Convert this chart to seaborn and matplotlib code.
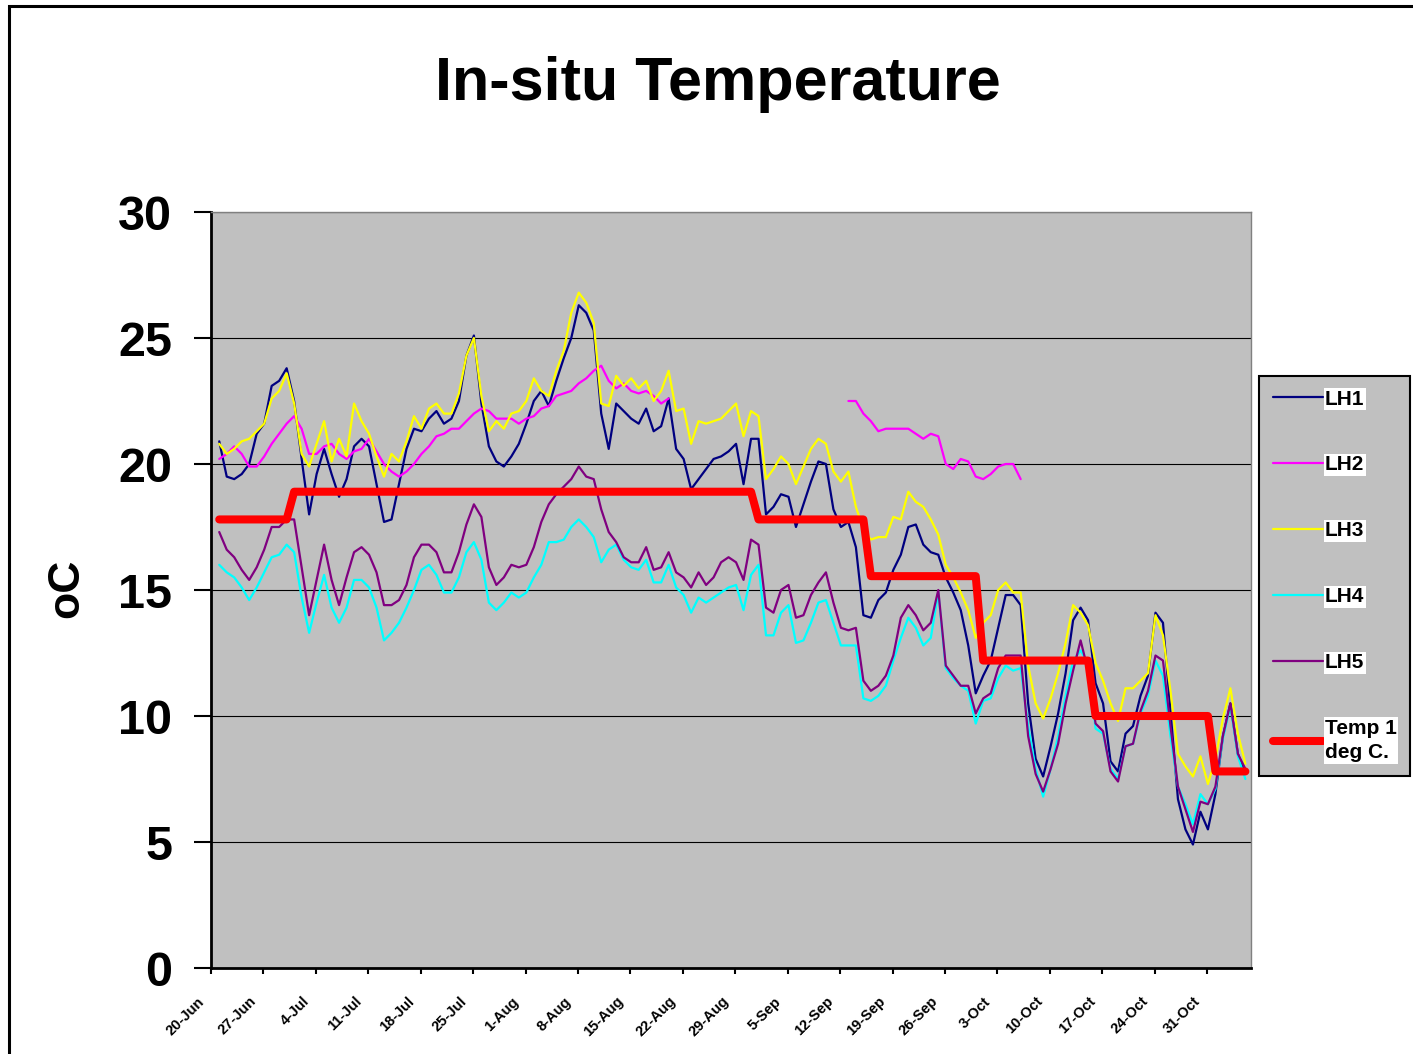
import numpy as np
import matplotlib.pyplot as plt
from matplotlib.patches import Rectangle
from matplotlib.transforms import ScaledTranslation
import seaborn as sns

# daily in-situ readings, first reading on 21-Jun
lh1 = [20.9, 19.5, 19.4, 19.6, 20.0, 21.2, 21.6, 23.1, 23.3, 23.8,
       22.5, 20.2, 18.0, 19.6, 20.6, 19.6, 18.7, 19.4, 20.7, 21.0,
       20.7, 19.2, 17.7, 17.8, 19.2, 20.6, 21.4, 21.3, 21.8, 22.1,
       21.6, 21.8, 22.5, 24.3, 25.1, 22.4, 20.7, 20.1, 19.9, 20.3,
       20.8, 21.6, 22.5, 22.9, 22.3, 23.3, 24.2, 25.0, 26.3, 26.0,
       25.3, 22.0, 20.6, 22.4, 22.1, 21.8, 21.6, 22.2, 21.3, 21.5,
       22.6, 20.6, 20.2, 19.0, 19.4, 19.8, 20.2, 20.3, 20.5, 20.8,
       19.2, 21.0, 21.0, 18.0, 18.3, 18.8, 18.7, 17.5, 18.4, 19.3,
       20.1, 20.0, 18.2, 17.5, 17.7, 16.7, 14.0, 13.9, 14.6, 14.9,
       15.8, 16.4, 17.5, 17.6, 16.8, 16.5, 16.4, 15.5, 14.9, 14.2,
       12.8, 10.9, 11.6, 12.2, 13.5, 14.8, 14.8, 14.4, 10.5, 8.3,
       7.6, 8.8, 10.1, 11.7, 13.8, 14.3, 13.8, 11.3, 10.5, 8.2,
       7.8, 9.3, 9.6, 10.8, 11.6, 14.1, 13.7, 10.2, 6.7, 5.5,
       4.9, 6.2, 5.5, 6.9, 9.2, 10.5, 8.5, 7.7]

# LH2 logged in two stretches
lh2_early = [20.2, 20.4, 20.7, 20.4, 19.9, 19.9, 20.3, 20.8, 21.2, 21.6,
             21.9, 21.4, 20.4, 20.4, 20.7, 20.8, 20.4, 20.2, 20.5, 20.6,
             21.0, 20.5, 20.0, 19.7, 19.5, 19.7, 20.0, 20.4, 20.7, 21.1,
             21.2, 21.4, 21.4, 21.7, 22.0, 22.2, 22.1, 21.8, 21.8, 21.8,
             21.6, 21.8, 21.9, 22.2, 22.3, 22.7, 22.8, 22.9, 23.2, 23.4,
             23.7, 23.9, 23.3, 23.0, 23.2, 22.9, 22.8, 22.9, 22.7, 22.4,
             22.6]
lh2_late = [22.5, 22.5, 22.0, 21.7, 21.3, 21.4,
            21.4, 21.4, 21.4, 21.2, 21.0, 21.2, 21.1, 20.0, 19.8, 20.2,
            20.1, 19.5, 19.4, 19.6, 19.9, 20.0, 20.0, 19.4]
LH2_LATE_START = 84  # reading index where the second stretch begins

lh3 = [20.8, 20.4, 20.6, 20.9, 21.0, 21.3, 21.6, 22.6, 22.9, 23.6,
       22.4, 20.4, 19.9, 20.8, 21.7, 20.1, 21.0, 20.3, 22.4, 21.7,
       21.2, 20.3, 19.5, 20.4, 20.1, 20.9, 21.9, 21.4, 22.2, 22.4,
       22.0, 22.0, 22.8, 24.3, 25.0, 22.7, 21.3, 21.7, 21.4, 22.0,
       22.1, 22.5, 23.4, 22.9, 22.7, 23.7, 24.5, 26.0, 26.8, 26.4,
       25.6, 22.4, 22.3, 23.5, 23.1, 23.4, 23.0, 23.3, 22.5, 22.9,
       23.7, 22.1, 22.2, 20.8, 21.7, 21.6, 21.7, 21.8, 22.1, 22.4,
       21.1, 22.1, 21.9, 19.4, 19.8, 20.3, 20.0, 19.2, 19.9, 20.6,
       21.0, 20.8, 19.7, 19.3, 19.7, 18.3, 17.4, 17.0, 17.1, 17.1,
       17.9, 17.8, 18.9, 18.5, 18.3, 17.8, 17.2, 16.0, 15.5, 14.9,
       14.2, 13.1, 13.7, 14.0, 15.0, 15.3, 14.9, 14.9, 12.0, 10.5,
       9.9, 10.7, 11.7, 12.9, 14.4, 14.1, 13.6, 12.1, 11.4, 10.5,
       9.8, 11.1, 11.1, 11.4, 11.7, 14.0, 13.2, 11.0, 8.5, 8.0,
       7.6, 8.4, 7.3, 8.3, 9.9, 11.1, 9.3, 8.1]

lh4 = [16.0, 15.7, 15.5, 15.1, 14.6, 15.1, 15.7, 16.3, 16.4, 16.8,
       16.5, 14.7, 13.3, 14.5, 15.6, 14.3, 13.7, 14.3, 15.4, 15.4,
       15.1, 14.3, 13.0, 13.3, 13.7, 14.3, 15.0, 15.8, 16.0, 15.6,
       14.9, 14.9, 15.5, 16.5, 16.9, 16.2, 14.5, 14.2, 14.5, 14.9,
       14.7, 14.9, 15.5, 16.0, 16.9, 16.9, 17.0, 17.5, 17.8, 17.5,
       17.1, 16.1, 16.6, 16.8, 16.2, 15.9, 15.8, 16.2, 15.3, 15.3,
       16.0, 15.1, 14.8, 14.1, 14.7, 14.5, 14.7, 14.9, 15.1, 15.2,
       14.2, 15.6, 16.0, 13.2, 13.2, 14.1, 14.4, 12.9, 13.0, 13.7,
       14.5, 14.6, 13.7, 12.8, 12.8, 12.8, 10.7, 10.6, 10.8, 11.2,
       12.2, 13.1, 13.9, 13.5, 12.8, 13.1, 14.9, 11.9, 11.5, 11.2,
       11.0, 9.7, 10.6, 10.7, 11.5, 12.0, 11.8, 11.9, 9.6, 7.9,
       6.8, 7.9, 9.2, 10.8, 12.2, 12.6, 12.1, 9.5, 9.3, 7.9,
       7.5, 8.8, 8.9, 10.1, 10.8, 12.2, 11.6, 9.2, 7.2, 6.5,
       5.7, 6.9, 6.5, 7.1, 9.1, 10.4, 8.4, 7.5]

lh5 = [17.3, 16.6, 16.3, 15.8, 15.4, 15.9, 16.6, 17.5, 17.5, 17.8,
       17.8, 15.9, 14.0, 15.4, 16.8, 15.4, 14.4, 15.5, 16.5, 16.7,
       16.4, 15.7, 14.4, 14.4, 14.6, 15.2, 16.3, 16.8, 16.8, 16.5,
       15.7, 15.7, 16.5, 17.6, 18.4, 17.9, 15.9, 15.2, 15.5, 16.0,
       15.9, 16.0, 16.7, 17.7, 18.4, 18.8, 19.1, 19.4, 19.9, 19.5,
       19.4, 18.2, 17.3, 16.9, 16.3, 16.1, 16.1, 16.7, 15.8, 15.9,
       16.5, 15.7, 15.5, 15.1, 15.7, 15.2, 15.5, 16.1, 16.3, 16.1,
       15.4, 17.0, 16.8, 14.3, 14.1, 15.0, 15.2, 13.9, 14.0, 14.8,
       15.3, 15.7, 14.5, 13.5, 13.4, 13.5, 11.4, 11.0, 11.2, 11.6,
       12.4, 13.9, 14.4, 14.0, 13.4, 13.7, 15.0, 12.0, 11.6, 11.2,
       11.2, 10.1, 10.7, 10.9, 11.9, 12.4, 12.4, 12.4, 9.2, 7.7,
       7.0, 7.9, 8.9, 10.5, 11.8, 13.0, 11.8, 9.7, 9.4, 7.8,
       7.4, 8.8, 8.9, 10.2, 11.0, 12.4, 12.2, 9.6, 7.2, 6.3,
       5.4, 6.6, 6.5, 7.2, 9.2, 10.5, 8.5, 7.9]

temp_1deg = [17.8, 17.8, 17.8, 17.8, 17.8, 17.8, 17.8, 17.8, 17.8, 17.8,
             18.9, 18.9, 18.9, 18.9, 18.9, 18.9, 18.9, 18.9, 18.9, 18.9,
             18.9, 18.9, 18.9, 18.9, 18.9, 18.9, 18.9, 18.9, 18.9, 18.9,
             18.9, 18.9, 18.9, 18.9, 18.9, 18.9, 18.9, 18.9, 18.9, 18.9,
             18.9, 18.9, 18.9, 18.9, 18.9, 18.9, 18.9, 18.9, 18.9, 18.9,
             18.9, 18.9, 18.9, 18.9, 18.9, 18.9, 18.9, 18.9, 18.9, 18.9,
             18.9, 18.9, 18.9, 18.9, 18.9, 18.9, 18.9, 18.9, 18.9, 18.9,
             18.9, 18.9, 17.8, 17.8, 17.8, 17.8, 17.8, 17.8, 17.8, 17.8,
             17.8, 17.8, 17.8, 17.8, 17.8, 17.8, 17.8, 15.55, 15.55, 15.55,
             15.55, 15.55, 15.55, 15.55, 15.55, 15.55, 15.55, 15.55, 15.55, 15.55,
             15.55, 15.55, 12.2, 12.2, 12.2, 12.2, 12.2, 12.2, 12.2, 12.2,
             12.2, 12.2, 12.2, 12.2, 12.2, 12.2, 12.2, 10.0, 10.0, 10.0,
             10.0, 10.0, 10.0, 10.0, 10.0, 10.0, 10.0, 10.0, 10.0, 10.0,
             10.0, 10.0, 10.0, 7.8, 7.8, 7.8, 7.8, 7.8]

tick_labels = ['20-Jun', '27-Jun', '4-Jul', '11-Jul', '18-Jul', '25-Jul', '1-Aug',
               '8-Aug', '15-Aug', '22-Aug', '29-Aug', '5-Sep', '12-Sep', '19-Sep',
               '26-Sep', '3-Oct', '10-Oct', '17-Oct', '24-Oct', '31-Oct']

colors = {'LH1': '#000080', 'LH2': '#FF00FF', 'LH3': '#FFFF00',
          'LH4': '#00FFFF', 'LH5': '#800080', 'Temp': '#FF0000'}

sns.set_style('white')
plt.rcParams['font.family'] = ['Liberation Sans', 'DejaVu Sans']
plt.rcParams['text.color'] = 'black'
plt.rcParams['xtick.color'] = 'black'
plt.rcParams['ytick.color'] = 'black'

W, H = 1413, 1054
fig = plt.figure(figsize=(W / 100, H / 100), dpi=100)
ax = fig.add_axes([211 / W, 1 - 968 / H, (1251 - 211) / W, (968 - 212) / H])
ax.set_facecolor('#C0C0C0')

# x in days after 20-Jun (first reading is 21-Jun)
day = np.arange(len(lh1)) + 1.1

lw = 1.6
sns.lineplot(x=day, y=lh1, ax=ax, color=colors['LH1'], linewidth=lw, label='LH1', estimator=None)
sns.lineplot(x=day[:len(lh2_early)], y=lh2_early, ax=ax, color=colors['LH2'], linewidth=lw,
             label='LH2', estimator=None)
sns.lineplot(x=day[LH2_LATE_START:LH2_LATE_START + len(lh2_late)], y=lh2_late, ax=ax,
             color=colors['LH2'], linewidth=lw, label='_nolegend_', estimator=None)
sns.lineplot(x=day, y=lh3, ax=ax, color=colors['LH3'], linewidth=lw, label='LH3', estimator=None)
sns.lineplot(x=day, y=lh4, ax=ax, color=colors['LH4'], linewidth=lw, label='LH4', estimator=None)
sns.lineplot(x=day, y=lh5, ax=ax, color=colors['LH5'], linewidth=lw, label='LH5', estimator=None)
sns.lineplot(x=day, y=temp_1deg, ax=ax, color=colors['Temp'], linewidth=5.8, label='Temp 1\ndeg C.',
             estimator=None, solid_capstyle='round', solid_joinstyle='round')

if ax.get_legend() is not None:
    ax.get_legend().remove()

ax.set_xlim(0, (1251 - 211) / 7.49)
ax.set_ylim(0, 30)
ax.set_yticks(np.arange(0, 31, 5))
ax.set_xticks(np.arange(0, 7 * len(tick_labels), 7))
ax.set_xlabel('')
ax.set_ylabel('')

ax.grid(False)
ax.yaxis.grid(True, color='black', linewidth=0.8)
ax.set_axisbelow(True)

for side in ['left', 'bottom']:
    ax.spines[side].set_color('black')
    ax.spines[side].set_linewidth(2)
for side in ['top', 'right']:
    ax.spines[side].set_color('#808080')
    ax.spines[side].set_linewidth(1)

ax.tick_params(axis='y', direction='out', length=12, width=1.5, pad=16, labelsize=35,
               colors='black', left=True)
ax.tick_params(axis='x', direction='out', length=4, width=1.5, pad=15, colors='black', bottom=True)

# tick labels after tick_params, which would reset their transforms
ax.set_xticklabels(tick_labels, rotation=45, ha='right', va='top', rotation_mode='anchor',
                   fontsize=10.5, fontweight='bold')
for lab in ax.get_xticklabels():
    lab.set_transform(lab.get_transform() + ScaledTranslation(-0.14, 0, fig.dpi_scale_trans))
for lab in ax.get_yticklabels():
    lab.set_fontweight('bold')

fig.text(718 / W, 1 - 100 / H, 'In-situ Temperature', ha='center', va='baseline',
         fontsize=44, fontweight='bold', color='black')
fig.text(67 / W, 1 - 588 / H, 'oC', rotation=90, ha='center', va='center',
         fontsize=32, fontweight='bold', color='black')

handles, labels = ax.get_legend_handles_labels()
leg = fig.legend(handles, labels, loc='upper left', bbox_to_anchor=(1259 / W, 1 - 376 / H),
                 frameon=True, fancybox=False, facecolor='#C0C0C0', edgecolor='black',
                 framealpha=1, prop={'weight': 'bold', 'size': 15}, handlelength=2.4,
                 handletextpad=0.12, labelspacing=2.25, borderpad=0.65, borderaxespad=0)
leg.get_frame().set_linewidth(1.5)
for t in leg.get_texts():
    t.set_color('black')
    t.set_linespacing(1.35)
    t.set_bbox(dict(facecolor='white', edgecolor='none', pad=1))

# outer chart border (open on the right and bottom)
fig.add_artist(Rectangle((9 / W, -0.1), 1.5, 1 - 6 / H + 0.1, transform=fig.transFigure,
                         fill=False, edgecolor='black', linewidth=2.2))

fig.savefig('out.png', dpi=100)
